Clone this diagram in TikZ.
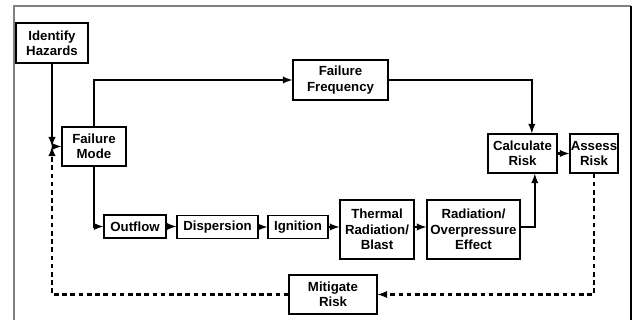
\documentclass[tikz,border=0pt]{standalone}
\usepackage{fontspec}
\setmainfont{Liberation Sans}
\usepackage{tikz}
\usetikzlibrary{arrows}

\tikzset{
  blk/.style={draw,line width=1pt,inner sep=0pt,align=center,font=\bfseries\fontsize{11.3}{13}\selectfont},
  flow/.style={line width=1.8pt,-latex},
  back/.style={line width=1.8pt,-latex,dash pattern=on 4pt off 3pt}
}

\begin{document}
\begin{tikzpicture}[x=0.03cm,y=-0.03cm,>=latex]
\useasboundingbox (0,0) rectangle (632,320);
% frame
\draw[gray,line width=1pt] (14,320) -- (14,6) -- (631,6);
\draw[line width=1pt] (631,6) -- (631,320);

% hazards and failure mode
\node[blk,minimum width=2.16cm,minimum height=1.2cm] (haz) at (52,43) {Identify\\Hazards};
\node[blk,minimum width=1.92cm,minimum height=1.17cm] (fm) at (94,146.5) {Failure\\Mode};
\coordinate (j) at (haz.south |- fm.west);
\draw[flow] (haz.south) -- (j);
\draw[flow] (j) -- (fm.west);

% frequency branch
\node[blk,minimum width=2.85cm,minimum height=1.2cm] (ff) at (340.5,80) {Failure\\Frequency};
\node[blk,minimum width=2.07cm,minimum height=1.17cm] (cr) at (522.5,153.5) {Calculate\\Risk};
\node[blk,minimum width=1.44cm,minimum height=1.17cm] (ar) at (594,153.5) {Assess\\Risk};
\coordinate (crin) at ([xshift=0.28cm]cr.north);
\coordinate (crup) at ([xshift=0.37cm]cr.south);
\draw[flow] (fm.north) |- (ff.west);
\draw[flow] (ff.east) -| (crin);
\draw[flow] (cr.east) -- (ar.west);

% consequence branch
\node[blk,minimum width=1.86cm,minimum height=0.69cm] (out) at (135,226.5) {Outflow};
\node[blk,minimum width=2.43cm,minimum height=0.69cm] (disp) at (217.5,227) {Dispersion};
\node[blk,minimum width=1.8cm,minimum height=0.69cm] (ign) at (298,227) {Ignition};
\node[blk,minimum width=2.22cm,minimum height=1.77cm] (thr) at (377,229.5) {Thermal\\Radiation/\\Blast};
\node[blk,minimum width=2.79cm,minimum height=1.77cm] (rad) at (473.5,229.5) {Radiation/\\Overpressure\\Effect};
\draw[flow] (fm.south) |- (out.west);
\draw[flow] (out.east) -- (out.east -| disp.west);
\draw[flow] (disp.east) -- (disp.east -| ign.west);
\draw[flow] (ign.east) -- (ign.east -| thr.west);
\draw[flow] (thr.east |- ign.east) -- (rad.west |- ign.east);
\draw[flow] (rad.east |- ign.east) -| (crup);

% mitigation loop
\node[blk,minimum width=2.64cm,minimum height=1.17cm] (mit) at (333,294.5) {Mitigate\\Risk};
\draw[back] (ar.south) |- (mit.east);
\draw[back] (mit.west) -| (j);
\end{tikzpicture}
\end{document}
